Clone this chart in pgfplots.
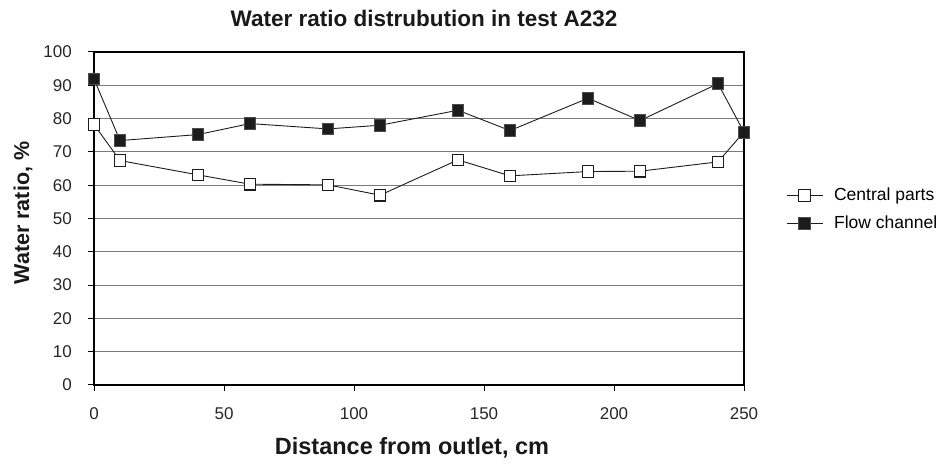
\documentclass[border=0pt]{standalone}
\usepackage{pgfplots}
\pgfplotsset{compat=1.18}
\usepackage{fontspec}
\setmainfont{Liberation Sans}
\definecolor{mk}{HTML}{1C1C1C}
\definecolor{gridc}{HTML}{7A7A7A}
\begin{document}
\begin{tikzpicture}[x=1bp,y=1bp]
\path[use as bounding box] (0,0) rectangle (946,464);
\begin{axis}[
  at={(94bp,79bp)}, anchor=south west,
  scale only axis, width=650bp, height=333bp,
  xmin=0, xmax=250, ymin=0, ymax=100,
  xtick={0,50,...,250}, ytick={0,10,...,100},
  tick align=outside, tick pos=left,
  major tick length=6bp,
  ymajorgrids, grid style={gridc, line width=0.9bp},
  axis line style={black, line width=1.1bp},
  every tick/.style={black, line width=1bp},
  tick label style={font=\fontsize{17bp}{20bp}\selectfont, text=black!85},
  /pgf/number format/assume math mode=true,
  yticklabel style={inner sep=0pt, xshift=-16bp},
  xticklabel style={inner sep=0pt, yshift=-16bp},
  clip=false,
  legend style={draw=none, fill=none, at={(axis description cs:1.0646,0.5946)}, anchor=north west,
    inner sep=0pt, row sep=11bp, column sep=11bp, font=\fontsize{17.5bp}{20bp}\selectfont,
    nodes={inner sep=0pt, text height=13bp, text depth=4bp}},
  legend cell align=left,
  legend image code/.code={\draw[mark repeat=2, mark phase=2] plot coordinates {(0bp,0bp) (18bp,0bp) (36bp,0bp)};},
]
\draw[black, line width=2bp] (axis cs:0,0) -- (axis cs:0,100);
\addplot[mk, line width=0.9bp, mark=square*, mark size=5.8bp, mark options={fill=white, draw=mk, line width=1.1bp}]
coordinates {(0,78.2)(10,67.4)(40,63.1)(60,60.3)(90,60.1)(110,57.0)(140,67.6)(160,62.8)(190,64.1)(210,64.2)(240,67.0)(250,76)};
\addlegendentry{Central parts}
\addplot[mk, line width=0.9bp, mark=square*, mark size=5.8bp, mark options={fill=mk, draw=black!70, line width=1bp}]
coordinates {(0,91.9)(10,73.4)(40,75.2)(60,78.5)(90,76.9)(110,78.0)(140,82.5)(160,76.4)(190,86.1)(210,79.4)(240,90.5)(250,75.9)};
\addlegendentry{Flow channel}
\end{axis}
\node[anchor=base, inner sep=0pt, font=\bfseries\fontsize{22.5bp}{26bp}\selectfont, text=black!90] at (424,437) {Water ratio distrubution in test A232};
\node[anchor=base, inner sep=0pt, font=\bfseries\fontsize{23.5bp}{26bp}\selectfont, text=black!90] at (412,9) {Distance from outlet, cm};
\node[rotate=90, inner sep=0pt, font=\bfseries\fontsize{21.5bp}{26bp}\selectfont, text=black!90] at (23,251) {Water ratio, \%};
\end{tikzpicture}
\end{document}
